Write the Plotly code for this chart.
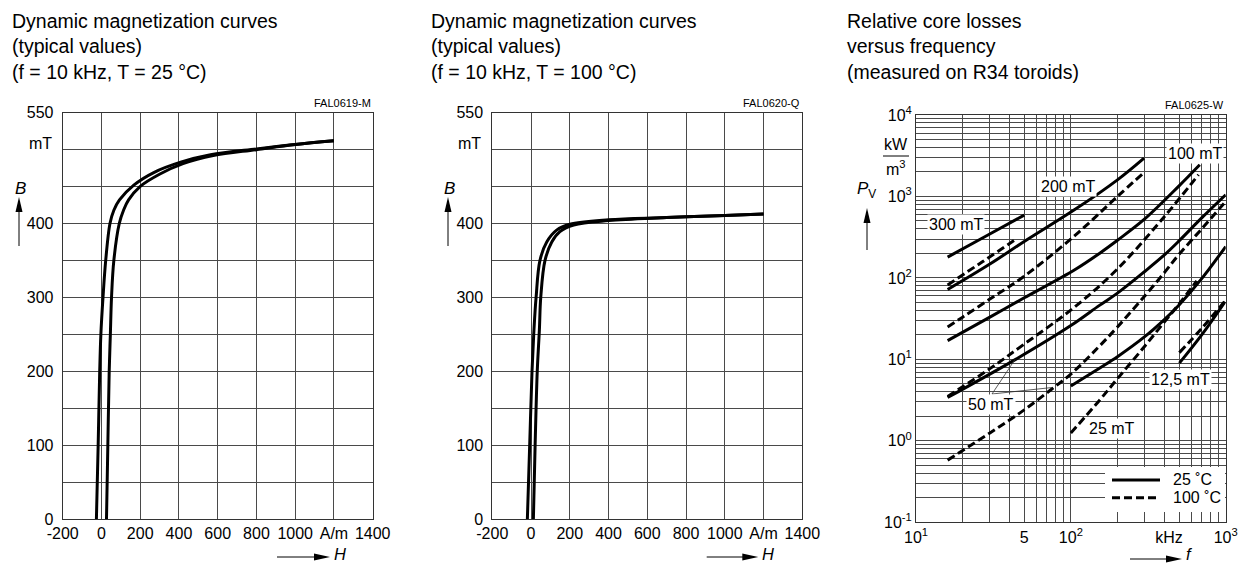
import plotly.graph_objects as go

W, H = 1242, 563

# ---------------- dynamic magnetization, 25 °C ----------------
h25_outer = [-26, -17, -9, -3, 8, 22, 44, 64, 93, 167, 270, 409, 563, 800, 1000, 1200]
b25_outer = [0, 100, 200, 250, 300, 350, 400, 418, 432, 452, 469, 483, 493, 501, 507, 512]
h25_inner = [26, 33, 40, 46, 52, 64, 92, 114, 140, 199, 302, 421, 577, 800, 1000, 1200]
b25_inner = [0, 100, 200, 250, 300, 350, 400, 418, 432, 450, 467, 481, 492, 500, 507, 512]

# ---------------- dynamic magnetization, 100 °C ----------------
h100_outer = [-19, -7, 5, 15, 26, 46, 81, 132, 200, 400, 700, 1000, 1200]
b100_outer = [0, 100, 200, 256, 300, 350, 375, 391, 399, 405, 408, 411, 413]
h100_inner = [12, 21, 32, 43, 50, 72, 107, 149, 220, 400, 700, 1000, 1200]
b100_inner = [0, 100, 200, 256, 300, 350, 375, 389, 398, 404, 408, 411, 413]

bh_xticks = [-200, 0, 200, 400, 600, 800, 1000, 1200, 1400]
bh_xtext = ["-200", "0", "200", "400", "600", "800", "1000", "A/m", "1400"]
bh_yticks = [0, 100, 200, 300, 400, 550]
bh_ytext = ["0", "100", "200", "300", "400", "550"]
bh_ygrid = [50, 150, 250, 350, 450, 500]

# ---------------- relative core losses (kHz, kW/m³) ----------------
f_300_25 = [16, 28, 50]
p_300_25 = [180, 322, 590]
f_300_100 = [16, 27, 45]
p_300_100 = [82, 159, 305]

f_200_25 = [16, 30, 50, 106, 200, 297]
p_200_25 = [72, 148, 280, 690, 1600, 2960]
f_200_100 = [16, 20, 30, 50, 106, 200, 297]
p_200_100 = [25, 33, 55, 105, 330, 1000, 1970]

f_100_25 = [16, 30, 50, 106, 153, 200, 300, 500, 680]
p_100_25 = [17, 33, 57, 126, 200, 290, 530, 1350, 2450]
f_100_100 = [16, 30, 50, 106, 200, 400, 668]
p_100_100 = [3.5, 7.7, 15.4, 44, 129, 560, 1850]

f_50_25 = [16, 44, 100, 153, 200, 300, 400, 500, 700, 1000]
p_50_25 = [3.4, 10, 26, 46, 65, 120, 190, 285, 545, 1048]
f_50_100 = [16, 30, 50, 75, 100, 150, 200, 300, 400, 500, 700, 1000]
p_50_100 = [0.58, 1.25, 2.4, 4.3, 6.6, 14, 25, 60, 115, 195, 400, 870]

f_25_25 = [100, 153, 200, 300, 400, 500, 700, 1000]
p_25_25 = [4.7, 7.8, 10.8, 19, 30.6, 46.6, 98, 243]
f_25_100 = [100, 150, 200, 300, 400, 500, 650]
p_25_100 = [1.25, 3.0, 5.8, 14.5, 28.5, 48, 92]

f_12_25 = [502, 700, 990]
p_12_25 = [9.0, 20, 51]
f_12_100 = [502, 700, 990]
p_12_100 = [12.1, 24, 52]

pv_yticks = [0.1, 1, 10, 100, 1000, 10000]
pv_ytext = ["10<sup>-1</sup>", "10<sup>0</sup>", "10<sup>1</sup>", "10<sup>2</sup>",
            "10<sup>3</sup>", "10<sup>4</sup>"]
pv_xticks = [10, 50, 100, 430, 1000]
pv_xtext = ["10<sup>1</sup>", "5", "10<sup>2</sup>", "kHz", "10<sup>3</sup>"]
pv_xgrid = [v * d for d in (10, 100) for v in range(1, 10)] + [1000]
pv_ygrid = [v * d for d in (0.1, 1, 10, 100, 1000) for v in range(1, 10)] + [10000]


def px(x):
    return x / W


def py(y):
    return 1 - y / H


FONT = "Liberation Sans, Arial, sans-serif"
GRID = "#4a4a4a"
LINE = dict(color="black", width=3)
DASH = dict(color="black", width=3, dash="8px,4px")

fig = go.Figure()

# B-H loops
for hx, by in [(h25_outer, b25_outer), (h25_inner, b25_inner)]:
    fig.add_trace(go.Scatter(x=hx, y=by, mode="lines", line=dict(LINE, shape="spline"),
                             xaxis="x", yaxis="y", showlegend=False, hoverinfo="skip"))
for hx, by in [(h100_outer, b100_outer), (h100_inner, b100_inner)]:
    fig.add_trace(go.Scatter(x=hx, y=by, mode="lines", line=dict(LINE, shape="spline"),
                             xaxis="x2", yaxis="y2", showlegend=False, hoverinfo="skip"))

# core loss curves: solid = 25 °C, dashed = 100 °C
solid = [(f_300_25, p_300_25), (f_200_25, p_200_25), (f_100_25, p_100_25),
         (f_50_25, p_50_25), (f_25_25, p_25_25), (f_12_25, p_12_25)]
dashed = [(f_300_100, p_300_100), (f_200_100, p_200_100), (f_100_100, p_100_100),
          (f_50_100, p_50_100), (f_25_100, p_25_100), (f_12_100, p_12_100)]
for fx, pvals in solid:
    fig.add_trace(go.Scatter(x=fx, y=pvals, mode="lines", line=dict(LINE, shape="spline"),
                             xaxis="x3", yaxis="y3", name="25 ˚C",
                             showlegend=False, hoverinfo="skip"))
for fx, pvals in dashed:
    fig.add_trace(go.Scatter(x=fx, y=pvals, mode="lines", line=dict(DASH, shape="spline"),
                             xaxis="x3", yaxis="y3", name="100 ˚C",
                             showlegend=False, hoverinfo="skip"))

tickfont = dict(family=FONT, size=16, color="black")
common = dict(zeroline=False, showline=True, linecolor="#333", linewidth=1, mirror=True,
              ticks="", tickfont=tickfont, fixedrange=True, automargin=False)
lin_x = dict(common, showgrid=True, gridcolor=GRID, gridwidth=1)
lin_y = dict(common, showgrid=True, gridcolor=GRID, gridwidth=1, ticklabelstandoff=5,
             minor=dict(tickvals=bh_ygrid, showgrid=True, gridcolor=GRID, gridwidth=1, ticks=""))

fig.update_layout(
    template="none",
    width=W, height=H, margin=dict(l=0, r=0, t=0, b=0, pad=0),
    paper_bgcolor="white", plot_bgcolor="white",
    font=dict(family=FONT, color="black"),
    xaxis=dict(lin_x, domain=[px(62.7), px(372.7)], range=[-200, 1400],
               tickvals=bh_xticks, ticktext=bh_xtext, anchor="y"),
    yaxis=dict(lin_y, domain=[py(519), py(112.7)], range=[0, 550],
               tickvals=bh_yticks, ticktext=bh_ytext, anchor="x"),
    xaxis2=dict(lin_x, domain=[px(492.3), px(802.3)], range=[-200, 1400],
                tickvals=bh_xticks, ticktext=bh_xtext, anchor="y2"),
    yaxis2=dict(lin_y, domain=[py(519), py(112.7)], range=[0, 550],
                tickvals=bh_yticks, ticktext=bh_ytext, anchor="x2"),
    xaxis3=dict(common, type="log", domain=[px(916), px(1225.7)], range=[1, 3],
                tickvals=pv_xticks, ticktext=pv_xtext, showgrid=False, anchor="y3",
                minor=dict(tickvals=pv_xgrid, showgrid=True, gridcolor=GRID, gridwidth=1, ticks="")),
    yaxis3=dict(common, type="log", domain=[py(522.3), py(115)], range=[-1, 4],
                tickvals=pv_yticks, ticktext=pv_ytext, showgrid=False, anchor="x3",
                minor=dict(tickvals=pv_ygrid, showgrid=True, gridcolor=GRID, gridwidth=1, ticks="")),
    showlegend=False,
)

ann = []
shapes = []


def text(x, y, s, size=16, xanchor="center", yanchor="middle", bg=None, italic=False, align="left"):
    if italic:
        s = "<i>" + s + "</i>"
    d = dict(x=px(x), y=py(y), xref="paper", yref="paper", text=s, showarrow=False,
             xanchor=xanchor, yanchor=yanchor, align=align,
             font=dict(family=FONT, size=size, color="black"))
    if bg:
        d.update(bgcolor=bg, borderpad=1)
    ann.append(d)


def seg(x0, y0, x1, y1, width=1, color="black", dash=None):
    line = dict(color=color, width=width)
    if dash:
        line["dash"] = dash
    shapes.append(dict(type="line", xref="paper", yref="paper", x0=px(x0), y0=py(y0),
                       x1=px(x1), y1=py(y1), line=line, layer="above"))


def up_arrow(x, y_bottom, y_top):
    seg(x, y_bottom, x, y_top + 10)
    shapes.append(dict(type="path", xref="paper", yref="paper", fillcolor="black",
                       line=dict(width=0),
                       path=f"M {px(x)} {py(y_top)} L {px(x - 3.5)} {py(y_top + 15)} "
                            f"L {px(x + 3.5)} {py(y_top + 15)} Z"))


def right_arrow(x_left, x_right, y):
    seg(x_left, y, x_right - 10, y)
    shapes.append(dict(type="path", xref="paper", yref="paper", fillcolor="black",
                       line=dict(width=0),
                       path=f"M {px(x_right)} {py(y)} L {px(x_right - 16)} {py(y - 3.5)} "
                            f"L {px(x_right - 16)} {py(y + 3.5)} Z"))


# titles
text(10, 8, "Dynamic magnetization curves<br>(typical values)<br>(f = 10 kHz, T = 25 °C)",
     size=19.5, xanchor="left", yanchor="top")
text(429, 8, "Dynamic magnetization curves<br>(typical values)<br>(f = 10 kHz, T = 100 °C)",
     size=19.5, xanchor="left", yanchor="top")
text(845, 8, "Relative core losses<br>versus frequency<br>(measured on R34 toroids)",
     size=19.5, xanchor="left", yanchor="top")

# drawing codes
text(372.7, 103, "FAL0619-M", size=11, xanchor="right")
text(802.3, 103, "FAL0620-Q", size=11, xanchor="right")
text(1225.7, 105, "FAL0625-W", size=11, xanchor="right")

# axis symbols and units
for x0, xr in ((20, 54), (449, 483)):
    text(x0, 188, "B", size=17, italic=True)
    up_arrow(x0 - 1, 246, 197)
    text(xr, 143, "mT", size=16, xanchor="right")
for xs, xh in ((277, 340), (706.7, 768.3)):
    right_arrow(xs, xh - 10, 557)
    text(xh, 554, "H", size=16.5, italic=True)

text(866, 190, "<i>P</i><sub>V</sub>", size=17)
up_arrow(867, 250, 208)
text(896, 145, "kW", size=16)
text(896, 168, "m<sup>3</sup>", size=16)
seg(883, 156, 909, 156)
right_arrow(1130, 1182, 559)
text(1189, 554, "f", size=16.5, italic=True)

# curve labels
text(956, 224, "300 mT", bg="white")
text(1068, 186, "200 mT", bg="white")
text(1195, 153, "100 mT", bg="white")
text(991, 404, "50 mT", bg="white")
text(1112, 428, "25 mT", bg="white")
text(1180, 380, "12,5 mT", bg="white")

seg(992, 394, 1015, 359.5, width=0.8, color="#333")
seg(992, 394, 1052, 387.5, width=0.8, color="#333")

# key for the two temperatures (white panel over the grid, then the samples)
shapes.append(dict(type="rect", xref="paper", yref="paper", x0=px(1105), x1=px(1225),
                   y0=py(512), y1=py(467), fillcolor="white", line=dict(width=0), layer="above"))
seg(1112, 480, 1160, 480, width=3)
seg(1112, 497.7, 1160, 497.7, width=3, dash="8px,4px")
text(1171, 480, "25 ˚C", xanchor="left")
text(1171, 497.7, "100 ˚C", xanchor="left")

fig.update_layout(annotations=ann, shapes=shapes)
fig.write_html("out.html")
